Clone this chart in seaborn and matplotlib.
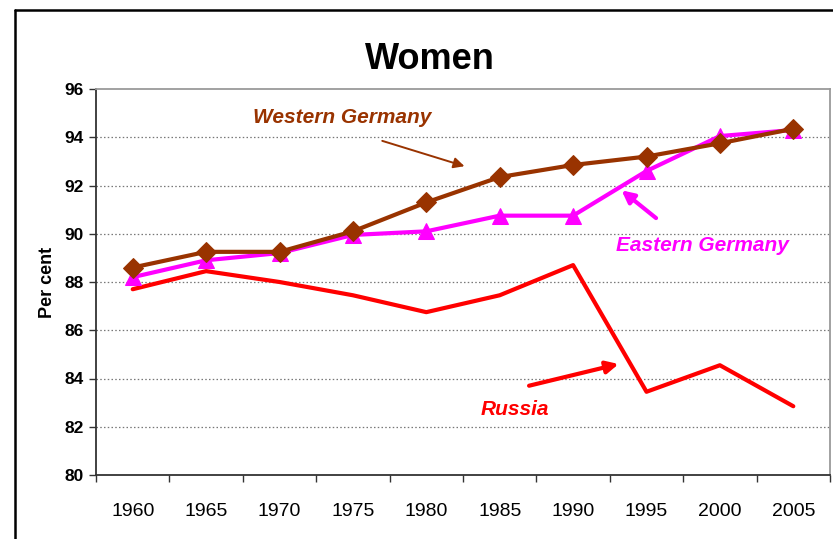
import matplotlib
matplotlib.use("Agg")
import matplotlib.pyplot as plt
import seaborn as sns
import pandas as pd
from matplotlib.lines import Line2D
from matplotlib.ticker import MultipleLocator

# --- data ---
years = [1960, 1965, 1970, 1975, 1980, 1985, 1990, 1995, 2000, 2005]
west_germany = [88.6, 89.25, 89.25, 90.1, 91.3, 92.35, 92.85, 93.2, 93.75, 94.35]
east_germany = [88.2, 88.9, 89.2, 89.95, 90.1, 90.75, 90.75, 92.6, 94.05, 94.3]
russia = [87.7, 88.45, 88.0, 87.45, 86.75, 87.45, 88.7, 83.45, 84.55, 82.85]

BROWN = '#993300'
MAGENTA = '#FF00FF'
RED = '#FF0000'

sns.set_theme(style="white")
plt.rcParams['font.family'] = ['Liberation Sans', 'DejaVu Sans']
plt.rcParams['text.color'] = 'black'
plt.rcParams['axes.labelcolor'] = 'black'
plt.rcParams['xtick.color'] = 'black'
plt.rcParams['ytick.color'] = 'black'

fig = plt.figure(figsize=(8.33, 5.39), dpi=100)
ax = fig.add_axes([96/833, 1 - 475/539, 734/833, 386/539])

df = pd.DataFrame({'year': years, 'west': west_germany,
                   'east': east_germany, 'russia': russia})

sns.lineplot(data=df, x='year', y='russia', ax=ax, color=RED, lw=3)
sns.lineplot(data=df, x='year', y='east', ax=ax, color=MAGENTA, lw=3,
             marker='^', markersize=11, markeredgecolor=MAGENTA)
sns.lineplot(data=df, x='year', y='west', ax=ax, color=BROWN, lw=3,
             marker='D', markersize=10, markeredgecolor=BROWN)

ax.set_xlim(1957.5, 2007.5)
ax.set_ylim(80, 96)
ax.yaxis.set_major_locator(MultipleLocator(2))
ax.set_xticks(years)
ax.set_xticks([1957.5 + 5 * i for i in range(11)], minor=True)
ax.tick_params(axis='x', which='major', length=0, pad=20, labelsize=14)
ax.tick_params(axis='x', which='minor', length=5, width=1, direction='out',
               color='#333333', bottom=True)
ax.tick_params(axis='y', length=5, width=1, direction='out', color='#333333',
               left=True, labelsize=12.5, pad=4)
for lab in ax.get_yticklabels():
    lab.set_fontweight('bold')

for y in range(82, 96, 2):
    ax.axhline(y, color='#777777', lw=0.9, ls=(0, (1.2, 1.8)), zorder=0)

ax.spines['left'].set_color('#333333')
ax.spines['bottom'].set_color('#333333')
ax.spines['top'].set_color('#9a9a9a')
ax.spines['right'].set_color('#9a9a9a')
for s in ax.spines.values():
    s.set_linewidth(1.3)

ax.set_xlabel('')
ax.set_ylabel('Per cent', fontsize=13, fontweight='bold', labelpad=6)

# --- series labels with arrows ---
ax.text(1974.3, 94.8, 'Western Germany', color=BROWN, fontsize=15,
        fontweight='bold', fontstyle='italic', ha='center', va='center')
ax.annotate('', xy=(1982.6, 92.8), xytext=(1977.0, 93.85),
            arrowprops=dict(arrowstyle='-|>', color=BROWN, lw=1.4,
                            mutation_scale=16, shrinkA=0, shrinkB=0))

ax.text(1998.8, 89.5, 'Eastern Germany', color=MAGENTA, fontsize=15,
        fontweight='bold', fontstyle='italic', ha='center', va='center')
ax.annotate('', xy=(1993.3, 91.8), xytext=(1995.65, 90.65),
            arrowprops=dict(arrowstyle='-|>', color=MAGENTA, lw=3,
                            mutation_scale=18, shrinkA=0, shrinkB=0))

ax.text(1986.0, 82.7, 'Russia', color=RED, fontsize=15,
        fontweight='bold', fontstyle='italic', ha='center', va='center')
ax.annotate('', xy=(1993.1, 84.6), xytext=(1987.0, 83.7),
            arrowprops=dict(arrowstyle='-|>', color=RED, lw=3,
                            mutation_scale=18, shrinkA=0, shrinkB=0))

# --- title and outer frame ---
fig.text(430/833, 1 - 69/539, 'Women', fontsize=26, fontweight='bold',
         ha='center', va='baseline')
fig.add_artist(Line2D([15/833, 15/833], [0, 1 - 10/539], color='black', lw=1.8,
                      transform=fig.transFigure))
fig.add_artist(Line2D([15/833, 1], [1 - 10/539, 1 - 10/539], color='black', lw=1.8,
                      transform=fig.transFigure))

fig.savefig('out.png', dpi=100)
